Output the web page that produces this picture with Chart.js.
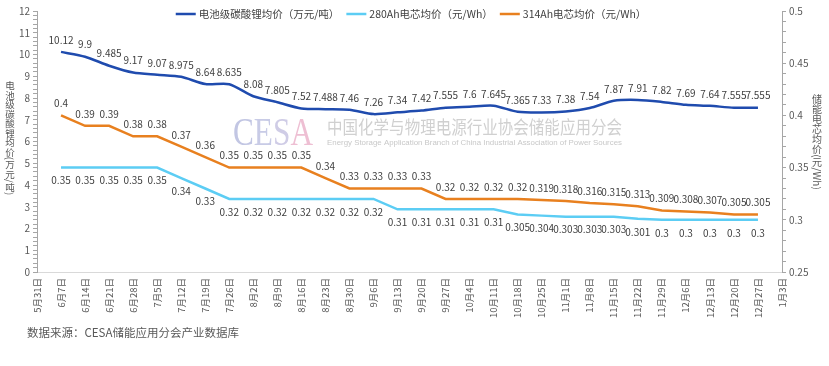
<!DOCTYPE html>
<html>
<head>
<meta charset="utf-8">
<script src="https://cdn.jsdelivr.net/npm/chart.js@4"></script>
<style>
  body { margin: 0; background: #fff; }
  #wrap { position: relative; width: 829px; height: 366px; }
  #source { position: absolute; left: 27px; top: 324px; font: 11.5px 'Noto Sans CJK SC', sans-serif; color: #595959; }
</style>
</head>
<body>
<div id="wrap">
  <canvas id="priceChart"></canvas>
  <div id="source">数据来源：CESA储能应用分会产业数据库</div>
</div>
<script>
const dates = ['5月31日', '6月7日', '6月14日', '6月21日', '6月28日', '7月5日', '7月12日', '7月19日', '7月26日',
    '8月2日', '8月9日', '8月16日', '8月23日', '8月30日', '9月6日', '9月13日', '9月20日', '9月27日',
    '10月4日', '10月11日', '10月18日', '10月25日', '11月1日', '11月8日', '11月15日', '11月22日',
    '11月29日', '12月6日', '12月13日', '12月20日', '12月27日', '1月3日'];

// weekly values, 6月7日 .. 12月27日
const lithiumPrice = [10.12, 9.9, 9.485, 9.17, 9.07, 8.975, 8.64, 8.635, 8.08, 7.805, 7.52, 7.488, 7.46, 7.26, 7.34,
    7.42, 7.555, 7.6, 7.645, 7.365, 7.33, 7.38, 7.54, 7.87, 7.91, 7.82, 7.69, 7.64, 7.555, 7.555];
const cell280Price = [0.35, 0.35, 0.35, 0.35, 0.35, 0.34, 0.33, 0.32, 0.32, 0.32, 0.32, 0.32, 0.32, 0.32, 0.31,
    0.31, 0.31, 0.31, 0.31, 0.305, 0.304, 0.303, 0.303, 0.303, 0.301, 0.3, 0.3, 0.3, 0.3, 0.3];
const cell314Price = [0.4, 0.39, 0.39, 0.38, 0.38, 0.37, 0.36, 0.35, 0.35, 0.35, 0.35, 0.34, 0.33, 0.33, 0.33,
    0.33, 0.32, 0.32, 0.32, 0.32, 0.319, 0.318, 0.316, 0.315, 0.313, 0.309, 0.308, 0.307, 0.305, 0.305];

const leftTicks = [0, 12, 0.2];      // min, max, minor step
const rightTicks = [0.25, 0.5, 0.01];

const family = "'Noto Sans CJK SC', 'Noto Sans', sans-serif";
Chart.defaults.font.family = family;

// first and last date have no value
const pad = arr => [null, ...arr, null];

const labelOffsets = [-12, 13, -12];

const dataLabels = {
    id: 'dataLabels',
    afterDatasetsDraw(chart) {
        const ctx = chart.ctx;
        ctx.save();
        ctx.font = `10px ${family}`;
        ctx.fillStyle = '#404040';
        ctx.textAlign = 'center';
        ctx.textBaseline = 'middle';
        chart.data.datasets.forEach((ds, i) => {
            chart.getDatasetMeta(i).data.forEach((pt, j) => {
                const v = ds.data[j];
                if (v === null) return;
                ctx.fillText(String(v), pt.x, pt.y + labelOffsets[i]);
            });
        });
        ctx.restore();
    }
};

const legendLine = {
    id: 'legendLine',
    afterDraw(chart) {
        const ctx = chart.ctx;
        ctx.save();
        ctx.font = `10.5px ${family}`;
        const items = chart.data.datasets.map(ds => ({ text: ds.label, color: ds.borderColor, w: ctx.measureText(ds.label).width }));
        const total = items.reduce((s, it) => s + 20 + 3 + it.w, 0) + 7 * (items.length - 1);
        let x = 411 - total / 2;
        const y = 14;
        ctx.textBaseline = 'middle';
        items.forEach(it => {
            ctx.strokeStyle = it.color;
            ctx.lineWidth = 2.5;
            ctx.beginPath();
            ctx.moveTo(x, y);
            ctx.lineTo(x + 20, y);
            ctx.stroke();
            ctx.fillStyle = '#404040';
            ctx.fillText(it.text, x + 23, y);
            x += 23 + it.w + 7;
        });
        ctx.restore();
    }
};

const drawVertical = (ctx, text, cx, cy, size) => {
    ctx.font = `${size}px ${family}`;
    const parts = [...text].map(ch => {
        const cjk = /[\u3400-\u9fff]/.test(ch);
        return { ch, cjk, adv: cjk ? size : ctx.measureText(ch).width };
    });
    const total = parts.reduce((s, p) => s + p.adv, 0);
    let y = cy - total / 2;
    ctx.textAlign = 'center';
    ctx.textBaseline = 'middle';
    parts.forEach(p => {
        if (p.cjk) {
            ctx.fillText(p.ch, cx, y + p.adv / 2);
        } else {
            ctx.save();
            ctx.translate(cx, y + p.adv / 2);
            ctx.rotate(Math.PI / 2);
            ctx.fillText(p.ch, 0, 0);
            ctx.restore();
        }
        y += p.adv;
    });
};

const axisTitles = {
    id: 'axisTitles',
    afterDraw(chart) {
        const ctx = chart.ctx;
        ctx.save();
        ctx.fillStyle = '#595959';
        drawVertical(ctx, '电池级碳酸锂均价(万元/吨)', 10, 138, 9.5);
        drawVertical(ctx, '储能电芯均价(元/Wh)', 817, 142, 10);
        ctx.restore();
    }
};

const watermark = {
    id: 'watermark',
    beforeDatasetsDraw(chart) {
        const ctx = chart.ctx;
        ctx.save();
        ctx.textBaseline = 'alphabetic';
        ctx.textAlign = 'left';
        ctx.font = `40px 'Liberation Serif', serif`;
        const letters = [['C', '#c2c6e3'], ['E', '#c8cbe6'], ['S', '#cfcce6'], ['A', '#eebfd3']];
        const full = ctx.measureText('CESA').width;
        const sx = 80 / full;
        ctx.translate(233, 145);
        ctx.scale(sx, 1);
        let x = 0;
        letters.forEach(([ch, col]) => {
            ctx.fillStyle = col;
            ctx.fillText(ch, x, 0);
            x += ctx.measureText(ch).width;
        });
        ctx.restore();

        ctx.save();
        ctx.fillStyle = '#d0d0d0';
        ctx.font = `17px ${family}`;
        const cn = '中国化学与物理电源行业协会储能应用分会';
        const cw = ctx.measureText(cn).width;
        ctx.translate(327, 134);
        ctx.scale(295 / cw, 1.1);
        ctx.fillText(cn, 0, 0);
        ctx.restore();

        ctx.save();
        ctx.fillStyle = '#c8c8c8';
        ctx.font = `8px 'Liberation Sans', sans-serif`;
        const en = 'Energy Storage Application Branch of China Industrial Association of Power Sources';
        const ew = ctx.measureText(en).width;
        ctx.translate(327, 145);
        ctx.scale(295 / ew, 1);
        ctx.fillText(en, 0, 0);
        ctx.restore();
    }
};

const isStep = (v, step) => Math.abs(v / step - Math.round(v / step)) < 1e-6;

new Chart(document.querySelector('#priceChart'), {
    type: 'line',
    data: {
        labels: dates,
        datasets: [
            {
                label: '电池级碳酸锂均价（万元/吨）',
                data: pad(lithiumPrice),
                borderColor: '#1f4bae',
                borderWidth: 2.5,
                tension: 0.25,
                pointRadius: 0,
                yAxisID: 'y'
            },
            {
                label: '280Ah电芯均价（元/Wh）',
                data: pad(cell280Price),
                borderColor: '#5ccdf4',
                borderWidth: 2.5,
                tension: 0,
                pointRadius: 0,
                yAxisID: 'y1'
            },
            {
                label: '314Ah电芯均价（元/Wh）',
                data: pad(cell314Price),
                borderColor: '#e8801f',
                borderWidth: 2.5,
                tension: 0,
                pointRadius: 0,
                yAxisID: 'y1'
            }
        ]
    },
    options: {
        responsive: true,
        maintainAspectRatio: false,
        animation: false,
        layout: { padding: { top: 11, bottom: 44, left: 0, right: 0 } },
        plugins: {
            legend: { display: false },
            tooltip: { enabled: false }
        },
        scales: {
            x: {
                offset: false,
                grid: { display: false, drawTicks: false },
                border: { color: '#d9d9d9' },
                ticks: { autoSkip: false, minRotation: 90, maxRotation: 90, padding: 6, color: '#595959', font: { size: 9.5 } },
                afterFit: s => { s.height = 50; }
            },
            y: {
                position: 'left',
                min: leftTicks[0],
                max: leftTicks[1],
                grid: { drawOnChartArea: false, tickLength: 4, color: '#a6a6a6' },
                border: { color: '#a6a6a6' },
                ticks: {
                    stepSize: leftTicks[2],
                    autoSkip: false,
                    padding: 3,
                    color: '#595959',
                    font: { size: 10 },
                    callback: v => isStep(v, 1) ? String(Math.round(v)) : ''
                },
                afterFit: s => { s.width = 37; }
            },
            y1: {
                position: 'right',
                min: rightTicks[0],
                max: rightTicks[1],
                grid: { drawOnChartArea: false, tickLength: 4, color: '#a6a6a6' },
                border: { color: '#a6a6a6' },
                ticks: {
                    stepSize: rightTicks[2],
                    autoSkip: false,
                    padding: 3,
                    color: '#595959',
                    font: { size: 10 },
                    callback: v => isStep(v, 0.05) ? String(+v.toFixed(2)) : ''
                },
                afterFit: s => { s.width = 47; }
            }
        }
    },
    plugins: [watermark, dataLabels, legendLine, axisTitles]
});
</script>
</body>
</html>
